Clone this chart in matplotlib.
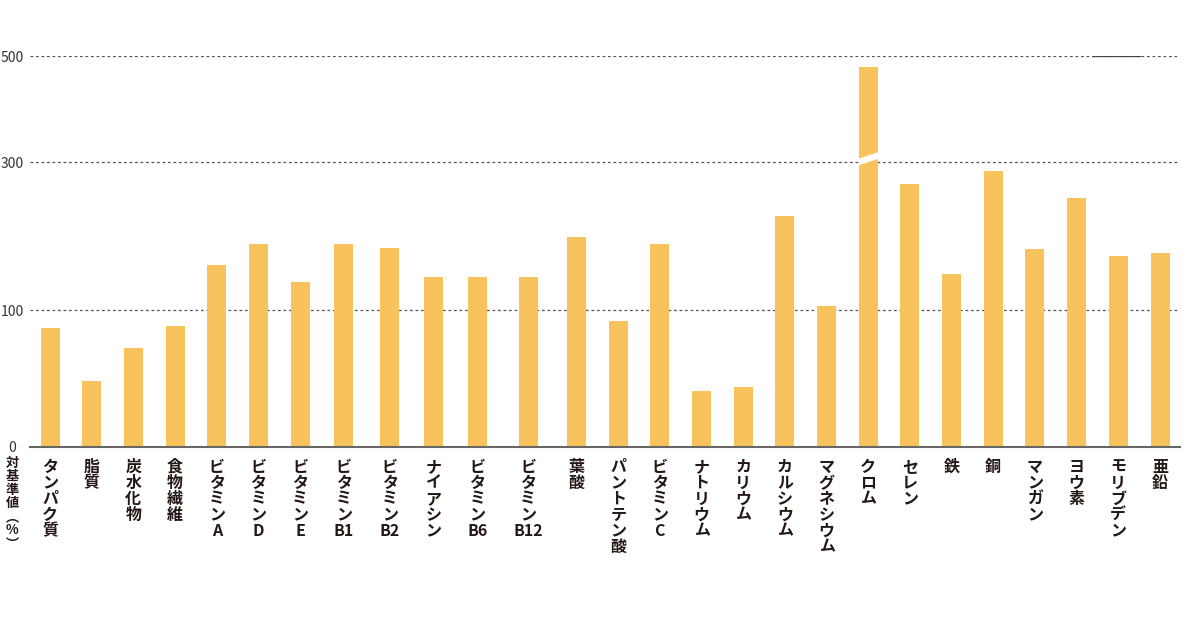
import numpy as np
import matplotlib.pyplot as plt

plt.rcParams['font.family'] = ['Noto Sans CJK JP', 'DejaVu Sans']

# data
nutrients = ['タンパク質', '脂質', '炭水化物', '食物繊維', 'ビタミンA', 'ビタミンD', 'ビタミンE',
             'ビタミンB1', 'ビタミンB2', 'ナイアシン', 'ビタミンB6', 'ビタミンB12', '葉酸',
             'パントテン酸', 'ビタミンC', 'ナトリウム', 'カリウム', 'カルシウム', 'マグネシウム',
             'クロム', 'セレン', '鉄', '銅', 'マンガン', 'ヨウ素', 'モリブデン', '亜鉛']
values = [87, 48, 72, 88, 161, 189, 138, 189, 184, 144, 144, 144, 198, 92, 189,
          41, 44, 227, 105, 480, 270, 149, 288, 182, 251, 173, 177]
tick_values = [0, 100, 300, 500]
tick_labels = ['0', '100', '300', '500']
broken_bar = 'クロム'
break_value = 300

# piecewise axis: pixel height of each tick above the baseline
tick_heights = [0, 137, 285, 391]

bar_color = '#F8C25C'
text_color = '#231815'
grid_color = '#555555'


def fwd(v):
    return np.interp(v, tick_values, tick_heights)


def inv(p):
    return np.interp(p, tick_heights, tick_values)


def vertical(s):
    # stack characters top-to-bottom, keeping latin runs together
    parts = []
    for ch in s:
        if ch.isascii() and parts and parts[-1].isascii():
            parts[-1] += ch
        else:
            parts.append(ch)
    return '\n'.join(parts)


W, H = 1200, 629
fig = plt.figure(figsize=(12, 6.29), dpi=100)
ax = fig.add_axes([30 / W, (H - 447) / H, 1150 / W, 391 / H])
ax.set_yscale('function', functions=(fwd, inv))
ax.set_ylim(0, 500)
ax.set_xlim(0, 1150)

# category labels, measured to space the columns like the original layout
labels = []
for name in nutrients:
    t = ax.text(0, -0.03, vertical(name), transform=ax.get_xaxis_transform(),
                ha='center', va='top', ma='center', fontsize=11.5,
                fontweight='bold', color=text_color, linespacing=1.0)
    labels.append(t)
renderer = fig.canvas.get_renderer()
widths = np.array([t.get_window_extent(renderer).width for t in labels])
first, last = 20, 1130
half_sum = (widths[:-1] + widths[1:]) / 2
gap = (last - first - half_sum.sum()) / (len(nutrients) - 1)
centers = first + np.concatenate([[0], np.cumsum(half_sum + gap)])
for t, c in zip(labels, centers):
    t.set_x(c)

for v in tick_values[1:]:
    ax.axhline(v, color=grid_color, lw=0.9, linestyle=(0, (2.2, 2.2)), zorder=1)
ax.plot([1063, 1110], [500, 500], color='#444444', lw=0.9, zorder=1)

bars = ax.bar(centers, values, width=19, color=bar_color, zorder=2)

# break mark on the tall bar
i = nutrients.index(broken_bar)
c = centers[i]
brk, = ax.plot([c - 20, c + 20], [break_value - 4.7, break_value + 18.5],
               color='white', lw=4.6, solid_capstyle='butt', zorder=3)
brk.set_clip_path(bars[i])

ax.axhline(0, color='#666666', lw=1.5, zorder=4, clip_on=False)

for s in ax.spines.values():
    s.set_visible(False)
ax.set_xticks([])
ax.set_yticks(tick_values)
ax.set_yticklabels(tick_labels)
ax.tick_params(axis='y', length=0, pad=13, labelsize=10, labelcolor='#333333')
for lab in ax.get_yticklabels():
    lab.set_ha('center')

fig.text(12 / W, 1 - 456 / H, '対\n基\n準\n値\n︵\n%\n︶', ha='center', va='top',
         fontsize=9.5, fontweight='bold', color=text_color, linespacing=0.95)

fig.savefig('out.png', dpi=100, facecolor='white')
plt.close(fig)
